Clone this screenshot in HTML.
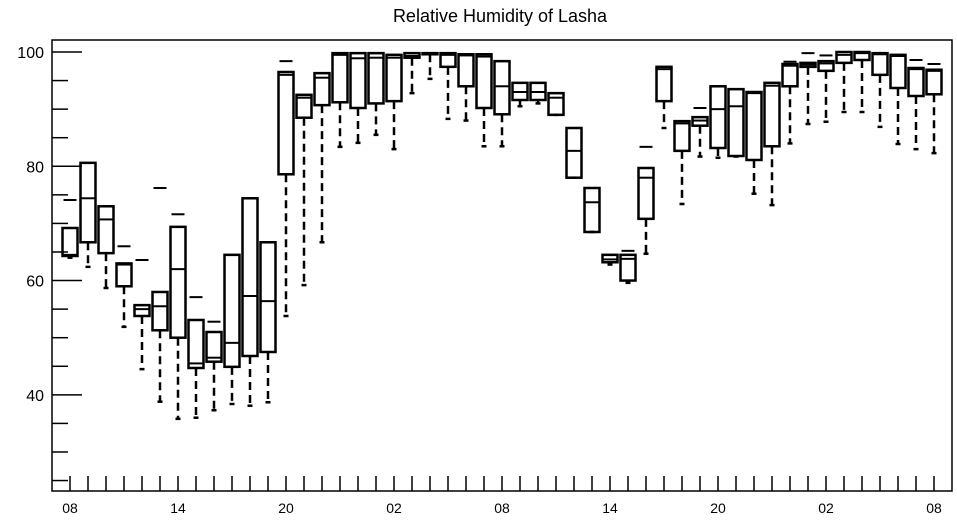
<!DOCTYPE html>
<html><head><meta charset="utf-8"><style>
html,body{margin:0;padding:0;background:#fff;}
svg{display:block;font-family:"Liberation Sans",sans-serif;}
</style></head><body>
<svg id="chart" width="957" height="520" viewBox="0 0 957 520" xmlns="http://www.w3.org/2000/svg">
<text x="500" y="22" text-anchor="middle" font-size="18">Relative Humidity of Lasha</text>
<g id="axes"></g>
<g id="boxes"></g>
</svg>
<script>
const hourLabels = ["08","14","20","02","08","14","20","02","08"];
const yTicks = [40,60,80,100];
const q1 = [64.3,66.7,64.8,59.0,53.8,51.3,50.0,44.7,45.8,44.9,46.8,47.5,78.6,88.5,90.7,91.2,90.2,91.0,91.4,99.0,99.6,97.4,94.0,90.2,89.1,91.6,91.6,89.0,78.0,68.5,63.2,60.0,70.8,91.4,82.7,87.1,83.2,81.8,81.1,83.5,94.0,97.4,96.7,98.1,98.6,96.0,93.7,92.3,92.6];
const q3 = [69.2,80.6,73.0,63.0,55.7,58.0,69.4,53.1,51.0,64.5,74.4,66.7,96.5,92.5,96.3,99.8,99.8,99.8,99.5,99.8,99.8,99.8,99.6,99.6,98.4,94.6,94.6,92.8,86.7,76.2,64.5,64.5,79.7,97.4,87.9,88.6,94.0,93.5,93.0,94.6,97.9,98.1,98.4,100,100,99.8,99.5,97.2,96.9];
const med = [64.5,74.4,70.7,62.8,55.0,55.5,62.0,45.5,46.5,49.1,57.3,56.4,96.0,92.0,95.5,99.5,98.9,99.0,99.0,99.3,99.7,99.5,99.4,99.2,94.0,93.0,93.0,92.0,82.7,73.7,63.7,63.8,78.0,97.0,87.5,88.0,90.0,90.5,92.8,94.1,97.6,97.8,98.0,99.5,99.8,99.6,99.3,97.0,96.7];
const lo = [64.0,62.4,58.7,51.9,44.5,38.8,35.8,36.0,37.3,38.4,38.1,38.7,53.8,59.2,66.7,83.4,84.1,85.5,83.0,92.8,95.3,88.3,88.0,83.5,83.5,90.5,91.0,89.0,78.0,68.5,62.8,59.6,64.7,86.7,73.4,81.7,81.5,81.7,75.2,73.2,84.0,87.4,87.8,89.5,89.5,86.9,83.9,83.0,82.3];
const hi = [74.1,80.6,73.0,66.0,63.6,76.2,71.6,57.1,52.8,64.5,74.4,66.7,98.4,92.5,96.3,99.8,99.8,99.8,99.5,99.8,99.8,99.8,99.6,99.6,98.4,94.6,94.6,92.8,86.7,76.2,64.5,65.2,83.4,97.4,87.9,90.2,94.0,93.5,93.0,94.6,98.3,99.8,99.4,100,100,99.8,99.5,98.6,97.9];

const X0=52, X1=952, Y0=40, Y1=491;
function xs(h){return 70+18*h;}
function ys(v){return 52+(100-v)*5.714;}
const NS="http://www.w3.org/2000/svg";
function mk(tag,attrs,parent){const e=document.createElementNS(NS,tag);for(const k in attrs)e.setAttribute(k,attrs[k]);parent.appendChild(e);return e;}
const axes=document.getElementById('axes'), boxes=document.getElementById('boxes');

const frame=mk('rect',{x:X0,y:Y0,width:X1-X0,height:Y1-Y0,fill:'none',stroke:'#000','stroke-width':1.5},axes);


for(let v=25; v<=100; v+=5){
  const major = v%20===0;
  const t=mk('line',{x1:X0,x2:X0+(major?30:16),y1:ys(v),y2:ys(v),stroke:'#000','stroke-width':1.5},axes);
  
  
}
yTicks.forEach(v=>{
  const t=mk('text',{x:44,y:ys(v)+6,'text-anchor':'end','font-size':16},axes);
  t.textContent=v;
  
  
});
for(let h=0; h<q1.length; h++){
  const t=mk('line',{x1:xs(h),x2:xs(h),y1:Y1,y2:Y1-15,stroke:'#000','stroke-width':1.5},axes);
  
  
}
hourLabels.forEach((l,i)=>{
  const t=mk('text',{x:xs(i*6),y:513,'text-anchor':'middle','font-size':14},axes);
  t.textContent=l;
  
  
});

for(let h=0; h<q1.length; h++){
  const g=mk('g',{},boxes);
  
  
  const cx=xs(h), w=15;
  mk('line',{x1:cx,x2:cx,y1:ys(q1[h]),y2:ys(lo[h]),stroke:'#000','stroke-width':2.5,'stroke-dasharray':'8,5'},g);
  mk('line',{x1:cx-2.5,x2:cx+2.5,y1:ys(lo[h]),y2:ys(lo[h]),stroke:'#000','stroke-width':2.5},g);
  mk('line',{x1:cx-w/2+1,x2:cx+w/2-1,y1:ys(hi[h]),y2:ys(hi[h]),stroke:'#000','stroke-width':2},g);
  mk('rect',{x:cx-w/2,y:ys(q3[h]),width:w,height:Math.max(1,ys(q1[h])-ys(q3[h])),fill:'none',stroke:'#000','stroke-width':2.5},g);
  mk('line',{x1:cx-w/2,x2:cx+w/2,y1:ys(med[h]),y2:ys(med[h]),stroke:'#000','stroke-width':2},g);
}
</script>
</body></html>
